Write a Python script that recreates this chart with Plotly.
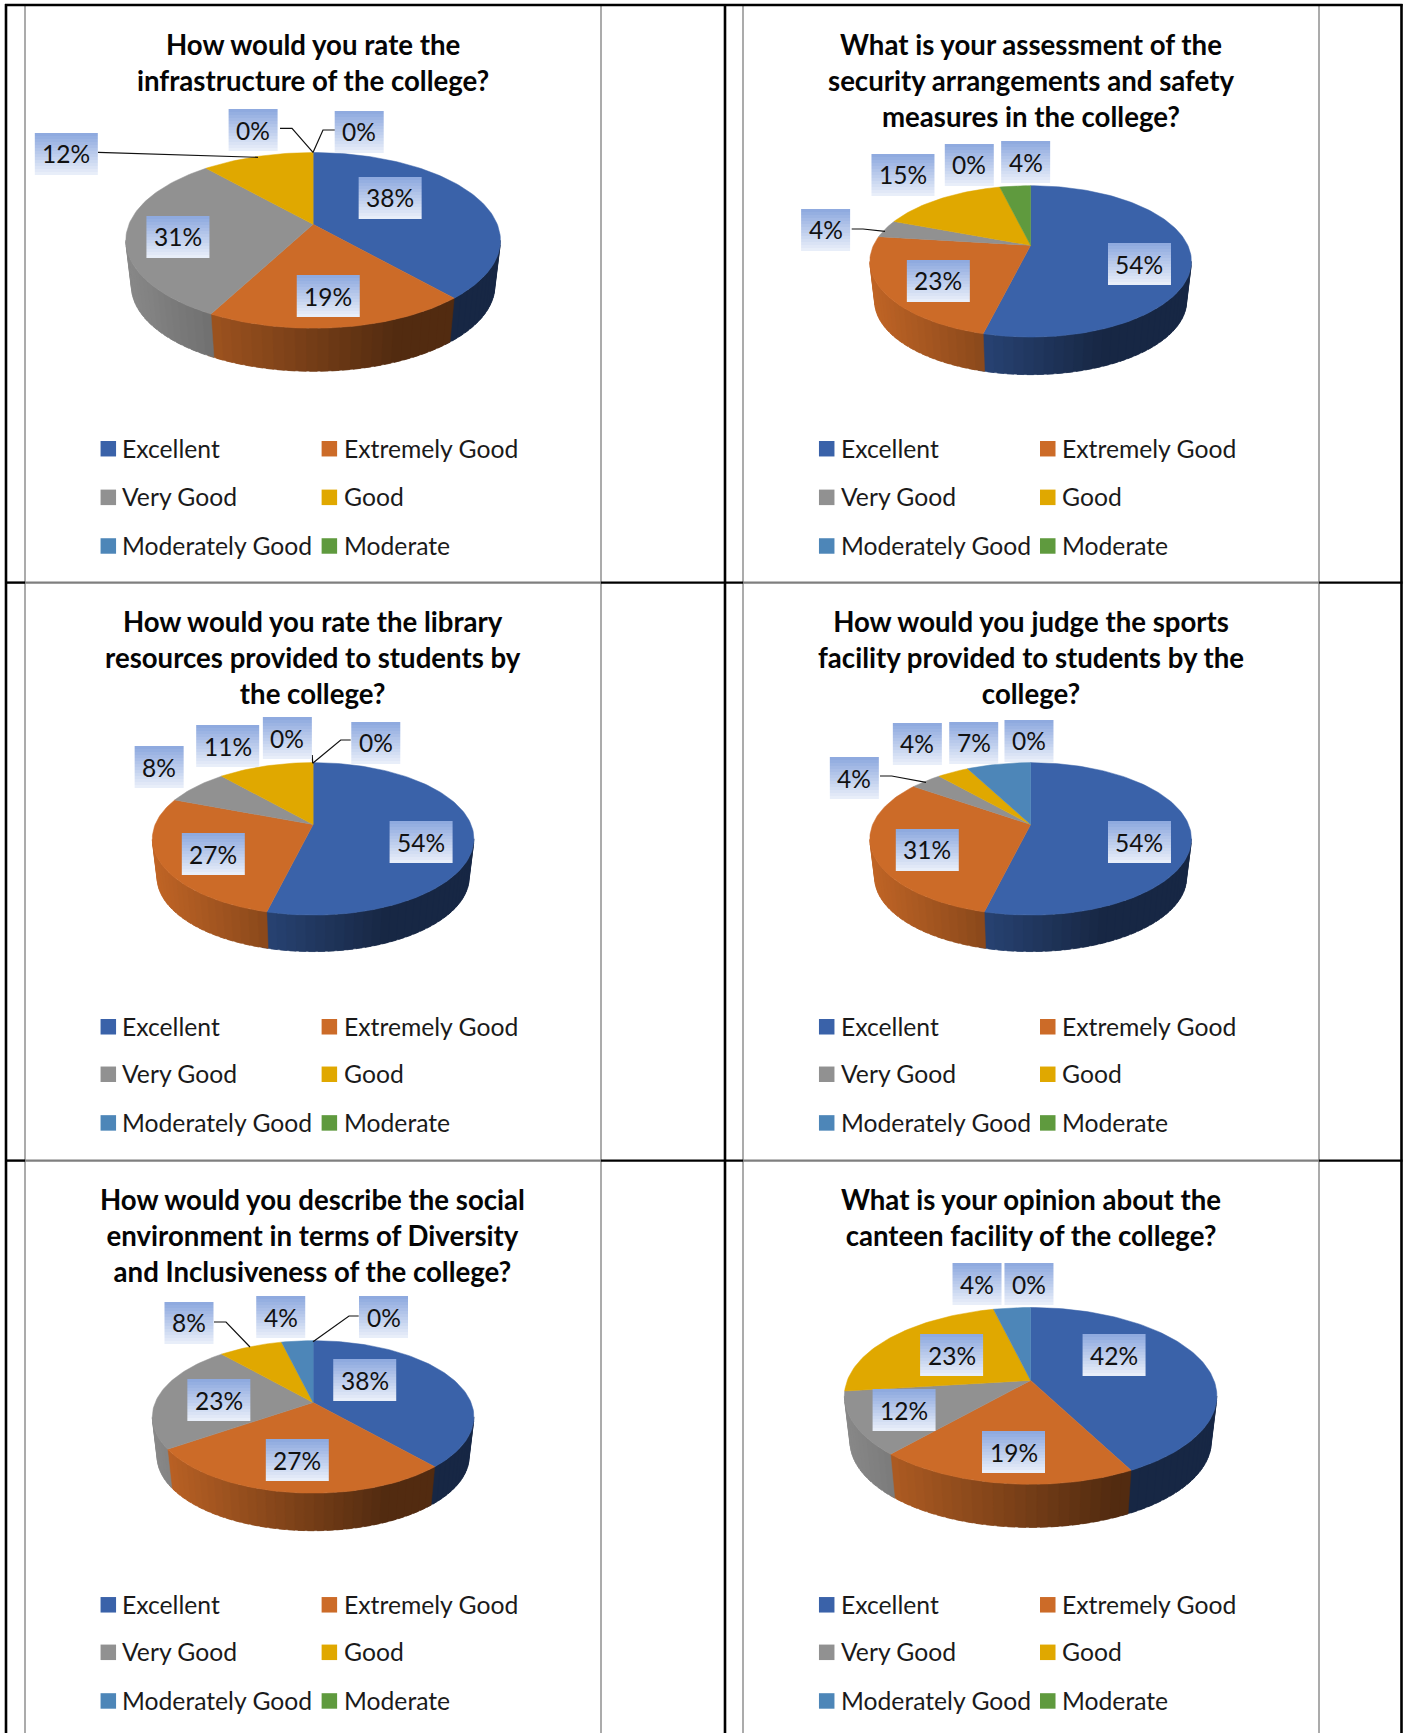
import math
import plotly.graph_objects as go

W, H = 1407, 1733
SX = SY = H / 1568

categories = ["Excellent", "Extremely Good", "Very Good", "Good", "Moderately Good", "Moderate"]
colors = ["#3A62A9", "#CC6B28", "#919191", "#E0A800", "#4D86B8", "#5F9A3E"]

titles = [
    "How would you rate the<br>infrastructure of the college?",
    "What is your assessment of the<br>security arrangements and safety<br>measures in the college?",
    "How would you rate the library<br>resources provided to students by<br>the college?",
    "How would you judge the sports<br>facility provided to students by the<br>college?",
    "How would you describe the social<br>environment in terms of Diversity<br>and Inclusiveness of the college?",
    "What is your opinion about the<br>canteen facility of the college?",
]
# slice shares
values_infrastructure = [38.5, 19.2, 30.8, 11.5, 0, 0]
values_security = [53.8, 23.1, 3.8, 15.4, 0, 3.8]
values_library = [53.8, 26.9, 7.7, 11.5, 0, 0]
values_sports = [53.8, 30.8, 3.8, 3.8, 7.7, 0]
values_social = [38.5, 26.9, 23.1, 7.7, 3.8, 0]
values_canteen = [42.3, 19.2, 11.5, 23.1, 3.8, 0]
all_values = [values_infrastructure, values_security, values_library,
              values_sports, values_social, values_canteen]
# percentages as printed on the chart
labels_infrastructure = [38, 19, 31, 12, 0, 0]
labels_security = [54, 23, 4, 15, 0, 4]
labels_library = [54, 27, 8, 11, 0, 0]
labels_sports = [54, 31, 4, 4, 7, 0]
labels_social = [38, 27, 23, 8, 4, 0]
labels_canteen = [42, 19, 12, 23, 4, 0]
all_labels = [labels_infrastructure, labels_security, labels_library,
              labels_sports, labels_social, labels_canteen]

# layout only: apex x, apex y, left, right, top, face bottom, rim bottom (reference-view units)
pie_frames = [
    (283.3, 203, 114, 453, 138, 297, 336),
    (932.5, 222, 787, 1078, 168, 305, 339),
    (283.3, 746, 138, 429, 690, 828, 861),
    (932.5, 746, 787, 1078, 690, 828, 861),
    (283.3, 1269, 138, 429, 1213, 1351, 1385),
    (932.5, 1249, 764, 1101, 1183, 1343, 1382),
]
label_spots = [
    [(353, 179), (297, 268), (161, 214), (60, 139), (229, 118), (325, 119)],
    [(1031, 239), (849, 254), (747, 208), (817, 158), (877, 149), (928, 147)],
    [(381, 762), (193, 773), (144, 694), (206, 675), (260, 668), (340, 672)],
    [(1031, 762), (839, 769), (773, 704), (830, 673), (881, 672), (931, 670)],
    [(330, 1249), (269, 1321), (198, 1267), (171, 1197), (254, 1192), (347, 1192)],
    [(1008, 1226), (917, 1314), (818, 1276), (861, 1226), (884, 1162), (931, 1162)],
]
title_centers = [(283, 56.5), (932.5, 72.5), (283, 595), (932.5, 595), (283, 1118), (932.5, 1101.5)]
legend_rows = [(406, 450, 494), (406, 450, 494), (929, 972, 1016), (929, 972, 1016),
               (1452, 1495, 1539), (1452, 1495, 1539)]
leaders = [
    [(98, 152.4), (258, 157.3)],
    [(280, 128.3), (292, 128.3), (313, 152.4)],
    [(335, 130), (323, 130), (313, 152.4)],
    [(851.7, 229), (863, 229), (885, 231.3)],
    [(350.7, 740), (340.7, 740), (312.7, 763.3)],
    [(312.2, 755), (312.7, 763.3)],
    [(880, 776), (891.7, 776), (926, 782.3)],
    [(214, 1322), (226, 1322), (250, 1347)],
    [(358.7, 1316), (349, 1316), (313, 1341.7)],
]

FONT = "Lato, 'Open Sans', sans-serif"
fig = go.Figure()
shapes = []
annotations = []


def hex_rgb(c):
    return tuple(int(c[i:i + 2], 16) for i in (1, 3, 5))


def shade(c, f):
    r, g, b = hex_rgb(c)
    return f"rgb({round(r * f)},{round(g * f)},{round(b * f)})"


def make_projector(frame):
    ax, ay, left, right, top, bottom, rim = frame
    ax, left, right = ax * SX, left * SX, right * SX
    ay, top, bottom, rim = ay * SY, top * SY, bottom * SY, rim * SY
    up, down = ay - top, bottom - ay
    k = (down - up) / (down + up)
    b = up * (1 + k)
    a = (right - left) / 2 * math.sqrt(1 - k * k)
    s = 0.97
    d = rim - ay - s * down

    def top_pt(deg):
        t = math.radians(deg)
        w = 1 + k * math.cos(t)
        return ax + a * math.sin(t) / w, ay - b * math.cos(t) / w

    def low_pt(deg):
        x, y = top_pt(deg)
        return ax + s * (x - ax), ay + s * (y - ay) + d

    edge = math.degrees(math.acos(-k))
    return top_pt, low_pt, (ax, ay, left, right, edge, 360 - edge)


def poly(xs, ys, color):
    fig.add_trace(go.Scatter(x=xs, y=ys, mode="lines", fill="toself", fillcolor=color,
                             line=dict(color=color, width=0.5), hoverinfo="skip",
                             showlegend=False))


def steps(a0, a1, step):
    n = max(1, int(math.ceil((a1 - a0) / step)))
    return [a0 + (a1 - a0) * i / n for i in range(n + 1)]


for vals, frame in zip(all_values, pie_frames):
    top_pt, low_pt, (ax, ay, left, right, vis0, vis1) = make_projector(frame)
    total = sum(vals)
    # sides first; each strip runs a little into the next one so no seam shows
    start = 0.0
    for v, col in zip(vals, colors):
        end = start + 360.0 * v / total
        a0, a1 = max(start, vis0), min(end, vis1)
        if v > 0 and a1 > a0:
            ang = steps(a0, a1, 3)
            for p, q in zip(ang[:-1], ang[1:]):
                q2 = min(q + 2, vis1)
                mx = (top_pt(p)[0] + top_pt(q)[0]) / 2
                t = (mx - left) / (right - left)
                f = max(0.40, min(0.96, 0.94 - 0.745 * t))
                pa = steps(p, q2, 1)
                tp = [top_pt(a) for a in pa]
                lp = [low_pt(a) for a in reversed(pa)]
                poly([c[0] for c in tp + lp] + [tp[0][0]],
                     [c[1] for c in tp + lp] + [tp[0][1]], shade(col, f))
        start = end
    # top faces
    start = 0.0
    for v, col in zip(vals, colors):
        end = start + 360.0 * v / total
        if v > 0:
            pts = [top_pt(a) for a in steps(start, end, 1.5)]
            poly([ax] + [p[0] for p in pts] + [ax], [ay] + [p[1] for p in pts] + [ay], col)
        start = end

# leader lines
for line in leaders:
    fig.add_trace(go.Scatter(x=[p[0] for p in line], y=[p[1] for p in line], mode="lines",
                             line=dict(color="#111111", width=1.2), hoverinfo="skip",
                             showlegend=False))

# data labels with gradient boxes
BOX_H = 42
BANDS = 14
GRAD_TOP, GRAD_BOTTOM = (0x8F, 0xAA, 0xDF), (0xE8, 0xEE, 0xF9)
for labs, spots in zip(all_labels, label_spots):
    for v, (cx, cy) in zip(labs, spots):
        text = f"{v}%"
        x, y = cx * SX, cy * SY
        w = 49 if len(text) == 2 else 63
        y0 = round(y - BOX_H / 2)
        for i in range(BANDS):
            m = i / (BANDS - 1)
            c = tuple(int(g0 + (g1 - g0) * m) for g0, g1 in zip(GRAD_TOP, GRAD_BOTTOM))
            shapes.append(dict(type="rect", xref="x", yref="y", layer="above",
                               x0=x - w / 2, x1=x + w / 2,
                               y0=y0 + BOX_H * i / BANDS, y1=y0 + BOX_H * (i + 1) / BANDS,
                               fillcolor=f"rgb{c}", line=dict(width=0)))
        annotations.append(dict(x=x, y=y, xref="x", yref="y", text=text, showarrow=False,
                                xanchor="center", yanchor="middle",
                                font=dict(family=FONT, size=24.5, color="#111111")))

# titles
for title, (cx, cy) in zip(titles, title_centers):
    annotations.append(dict(x=cx * SX, y=cy * SY, xref="x", yref="y", text=f"<b>{title}</b>",
                            showarrow=False, xanchor="center", yanchor="middle", align="center",
                            font=dict(family=FONT, size=27.6, color="#050505")))

# legends
for idx, rows in enumerate(legend_rows):
    off = 0 if idx % 2 == 0 else 650
    for j, (name, col) in enumerate(zip(categories, colors)):
        sx = (91 if j % 2 == 0 else 291) + off
        ry = rows[j // 2]
        fig.add_trace(go.Scatter(x=[(sx + 7) * SX], y=[ry * SY], mode="markers",
                                 marker=dict(symbol="square", size=15.5, color=col, line=dict(width=0)),
                                 hoverinfo="skip", showlegend=False))
        annotations.append(dict(x=(sx + 18) * SX, y=(ry - 0.6) * SY, xref="x", yref="y", text=name,
                                showarrow=False, xanchor="left", yanchor="middle",
                                font=dict(family=FONT, size=24.7, color="#1a1a1a")))


# table and chart frames
def seg(x0, y0, x1, y1, color, width):
    shapes.append(dict(type="line", xref="x", yref="y", layer="below", x0=x0, y0=y0, x1=x1, y1=y1,
                       line=dict(color=color, width=width)))


GRAY, DARK = "#ABABAB", "#7F7F7F"
frame_x = [25, 601, 743, 1319]
for x in frame_x:
    seg(x, 5, x, H, GRAY, 2)
for x in (6, 725, 1401.5):
    seg(x, 4, x, H, "#000000", 2.6)
seg(5, 5, 1402.5, 5, "#000000", 2.4)
for y in (582.6, 1160.6):
    seg(5, y, 25, y, "#000000", 2.4)
    seg(601, y, 743, y, "#000000", 2.4)
    seg(1319, y, 1402.5, y, "#000000", 2.4)
    seg(25, y, 601, y, DARK, 2.4)
    seg(743, y, 1319, y, DARK, 2.4)

fig.update_layout(
    width=W, height=H, margin=dict(l=0, r=0, t=0, b=0),
    paper_bgcolor="white", plot_bgcolor="white", showlegend=False, hovermode=False,
    xaxis=dict(range=[0, W], visible=False, fixedrange=True),
    yaxis=dict(range=[H, 0], visible=False, fixedrange=True),
    shapes=shapes, annotations=annotations,
)
fig.write_html("out.html", config={"displayModeBar": False},
               post_script="document.body.style.margin='0';document.documentElement.style.overflow='hidden';")
